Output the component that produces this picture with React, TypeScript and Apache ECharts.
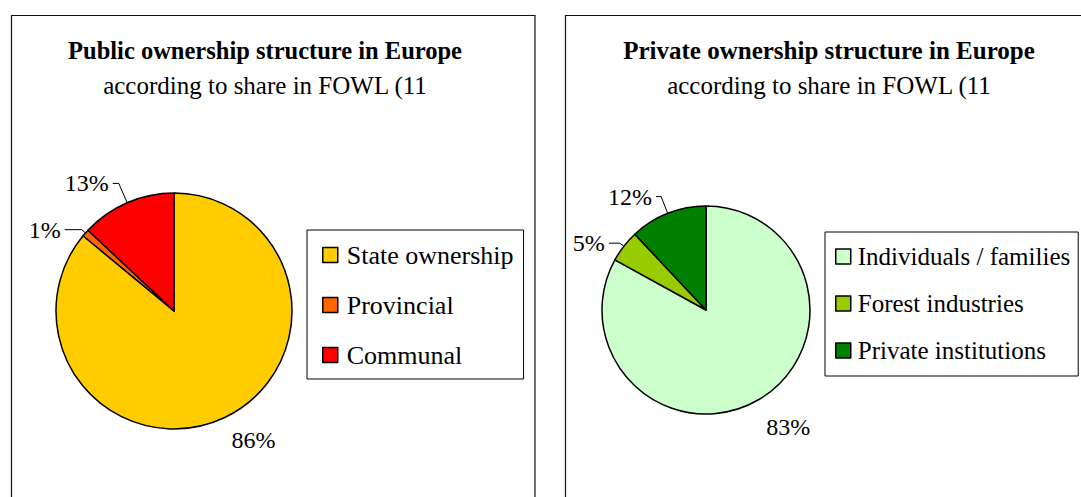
import React, { useEffect, useRef } from "react";
import * as echarts from "echarts";

const publicCategories = ["State ownership", "Provincial", "Communal"];
const publicShares = [86, 1, 13];
const publicColors = ["#FFCC00", "#FF6600", "#FF0000"];

const privateCategories = ["Individuals / families", "Forest industries", "Private institutions"];
const privateShares = [83, 5, 12];
const privateColors = ["#CCFFCC", "#99CC00", "#008000"];

const titles = ["Public ownership structure in Europe", "Private ownership structure in Europe"];
const subtitle = "according to share in FOWL (11";

const FONT = "'Liberation Serif', 'Times New Roman', serif";

// per-slice label line geometry (length, length2, visible)
const publicLines = [
  { show: false, length: 22, length2: 0 },
  { show: true, length: 5, length2: 17 },
  { show: true, length: 21, length2: 6 },
];
const privateLines = [
  { show: false, length: 28, length2: 0 },
  { show: true, length: 5, length2: 11 },
  { show: true, length: 18, length2: 5 },
];

function buildData(names: string[], values: number[], colors: string[], lines: any[]) {
  return names.map((n, i) => ({
    name: n,
    value: values[i],
    itemStyle: { color: colors[i] },
    labelLine: {
      show: lines[i].show,
      length: lines[i].length,
      length2: lines[i].length2,
      lineStyle: { color: "#000", width: 1 },
    },
  }));
}

export default function App() {
  const ref = useRef<HTMLDivElement>(null);
  useEffect(() => {
    if (!ref.current) return;
    const chart = echarts.init(ref.current, undefined, { renderer: "svg" });
    const titleBase = {
      textAlign: "center" as const,
      padding: 0,
      itemGap: 10,
      subtextStyle: { fontFamily: FONT, fontSize: 25, color: "#000" },
    };
    const pieBase = {
      type: "pie" as const,
      startAngle: 90,
      clockwise: true,
      avoidLabelOverlap: false,
      itemStyle: { borderColor: "#000", borderWidth: 1.5 },
      label: {
        show: true,
        position: "outside" as const,
        formatter: "{c}%",
        fontFamily: FONT,
        fontSize: 24,
        color: "#000",
        distanceToLabelLine: 4,
      },
      labelLine: { lineStyle: { color: "#000", width: 1 } },
      emphasis: { disabled: true },
    };
    const legendBase = {
      orient: "vertical" as const,
      icon: "rect",
      itemWidth: 15,
      itemHeight: 15,
      borderColor: "#000",
      borderWidth: 1,
      selectedMode: false,
      itemStyle: { borderColor: "#000", borderWidth: 1.5 },
    };
    chart.setOption({
      animation: false,
      backgroundColor: "#fff",
      textStyle: { fontFamily: FONT },
      title: [
        {
          ...titleBase,
          text: titles[0],
          subtext: subtitle,
          left: 265,
          top: 38,
          textStyle: { fontFamily: FONT, fontSize: 24.5, fontWeight: "bold", color: "#000" },
        },
        {
          ...titleBase,
          text: titles[1],
          subtext: subtitle,
          left: 829,
          top: 38,
          textStyle: { fontFamily: FONT, fontSize: 25, fontWeight: "bold", color: "#000" },
        },
      ],
      legend: [
        {
          ...legendBase,
          data: publicCategories,
          left: 307,
          top: 230,
          padding: [12, 10, 11, 15],
          itemGap: 24,
          textStyle: { fontFamily: FONT, fontSize: 26, color: "#000", padding: [0, 0, 0, 4] },
        },
        {
          ...legendBase,
          data: privateCategories,
          left: 825,
          top: 232,
          padding: [12, 8, 13, 10],
          itemGap: 22,
          textStyle: { fontFamily: FONT, fontSize: 25, color: "#000", padding: [0, 0, 0, 2] },
        },
      ],
      graphic: [
        {
          type: "rect",
          z: -1,
          shape: { x: 11.5, y: 15.5, width: 523.5, height: 520 },
          style: { fill: "none", stroke: "#111", lineWidth: 1.2 },
        },
        {
          type: "rect",
          z: -1,
          shape: { x: 565.5, y: 15.5, width: 600, height: 520 },
          style: { fill: "none", stroke: "#111", lineWidth: 1.2 },
        },
      ],
      series: [
        {
          ...pieBase,
          name: "Public",
          center: [174, 311],
          radius: [0, 118],
          data: buildData(publicCategories, publicShares, publicColors, publicLines),
          labelLayout: (p: any) => (p.dataIndex === 0 ? { dx: -6, dy: 2 } : {}),
        },
        {
          ...pieBase,
          name: "Private",
          center: [706, 310],
          radius: [0, 104],
          data: buildData(privateCategories, privateShares, privateColors, privateLines),
          labelLayout: (p: any) => (p.dataIndex === 0 ? { dx: -11, dy: 3 } : {}),
        },
      ],
    });
    return () => chart.dispose();
  }, []);
  return (
    <div
      ref={ref}
      style={{ position: "absolute", left: 0, top: 0, width: 1081, height: 497 }}
    />
  );
}
